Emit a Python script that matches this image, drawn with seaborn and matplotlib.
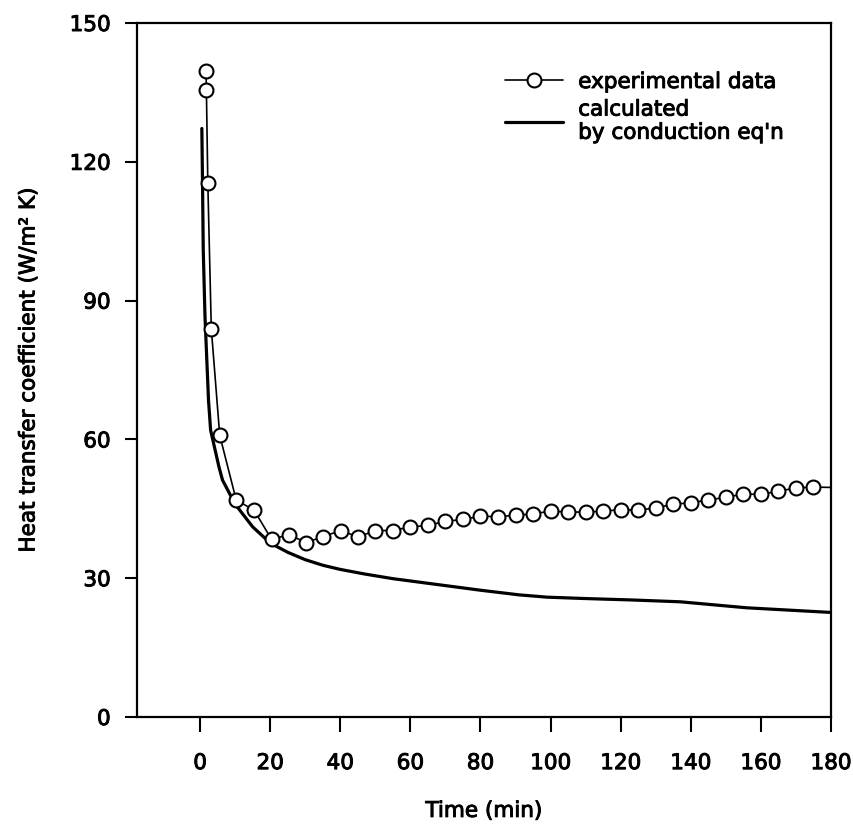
import matplotlib
matplotlib.use("Agg")
import matplotlib.pyplot as plt
import matplotlib.patheffects as pe
import seaborn as sns
import pandas as pd
from matplotlib.lines import Line2D

# experimental data (circles)
exp_time = [1.7, 1.8, 2.2, 3.2, 5.6, 10.3, 15.4, 20.4, 25.3, 30.3, 35.1, 40.2, 45.1,
            50, 55, 60, 65, 70, 75, 80, 85, 90, 95, 100, 105, 110, 115, 120, 125,
            130, 135, 140, 145, 150, 155, 160, 165, 170, 175, 181]
exp_h = [139.6, 135.5, 115.5, 83.9, 60.9, 46.9, 44.7, 38.4, 39.4, 37.7, 39.0, 40.3, 38.9,
         40.3, 40.3, 41.1, 41.4, 42.3, 42.7, 43.4, 43.3, 43.6, 43.9, 44.5, 44.3, 44.3,
         44.5, 44.8, 44.7, 45.2, 46.0, 46.3, 46.9, 47.5, 48.2, 48.1, 48.8, 49.5, 49.7, 49.6]

# calculated by conduction equation
calc_time = [0.5, 0.7, 0.9, 1.4, 2.4, 3.0, 5.4, 6.4, 10, 15, 20, 25, 30, 35, 40, 47,
             55, 65, 72, 80, 91, 99, 110, 123, 137, 156, 180]
calc_h = [127.2, 115, 101, 86.5, 68.5, 62, 54, 51.2, 46, 41.1, 37.6, 35.6, 34.0, 32.8,
          31.9, 30.9, 29.9, 28.9, 28.2, 27.4, 26.4, 25.9, 25.6, 25.3, 24.9, 23.6, 22.6]

x_ticks = [0, 20, 40, 60, 80, 100, 120, 140, 160, 180]
y_ticks = [0, 30, 60, 90, 120, 150]

sns.set_style("ticks")
plt.rcParams['font.family'] = ['DejaVu Sans']
plt.rcParams['text.color'] = 'black'
plt.rcParams['axes.labelcolor'] = 'black'
FS = 15.5
thick = [pe.withStroke(linewidth=0.7, foreground='black')]

fig = plt.figure(figsize=(8.54, 8.26), dpi=100)
ax = fig.add_axes([137/854, 1-717/826, (831-137)/854, (717-23)/826])

df_exp = pd.DataFrame({"t": exp_time, "h": exp_h})
df_calc = pd.DataFrame({"t": calc_time, "h": calc_h})

sns.lineplot(data=df_calc, x="t", y="h", ax=ax, color="black", linewidth=2.3,
             estimator=None, sort=False)
sns.lineplot(data=df_exp, x="t", y="h", ax=ax, color="black", linewidth=1.2,
             marker="o", markersize=10, markerfacecolor="white",
             markeredgecolor="black", markeredgewidth=1.5,
             markevery=list(range(len(exp_time) - 1)),
             estimator=None, sort=False)

ax.set_xlim(-18, 180)
ax.set_ylim(0, 150)
ax.set_xticks(x_ticks)
ax.set_yticks(y_ticks)
ax.tick_params(axis='both', direction='out', width=1.5, labelsize=FS,
               colors='black', labelcolor='black')
ax.tick_params(axis='x', length=11, pad=15)
ax.tick_params(axis='y', length=9, pad=10)
for s in ax.spines.values():
    s.set_linewidth(1.6)
    s.set_color('black')
    s.set_visible(True)

ax.set_xlabel("Time (min)", fontsize=FS, labelpad=20)
ax.set_ylabel("Heat transfer coefficient (W/m² K)", fontsize=FS)
ax.yaxis.set_label_coords(-0.142, 0.5)

handles = [
    Line2D([], [], color='black', linewidth=1.2, marker='o', markersize=10,
           markerfacecolor='white', markeredgecolor='black', markeredgewidth=1.5),
    Line2D([], [], color='black', linewidth=2.3),
]
leg = ax.legend(handles, ["experimental data", "calculated\nby conduction eq'n"],
                loc='upper left', bbox_to_anchor=((505-137)/694, (717-72)/694),
                frameon=False, fontsize=FS, handlelength=2.7, handletextpad=0.7,
                borderpad=0, borderaxespad=0, labelspacing=0.35, labelcolor='black')

texts = ax.get_xticklabels() + ax.get_yticklabels() + [ax.xaxis.label, ax.yaxis.label] \
    + leg.get_texts()
for t in texts:
    t.set_path_effects(thick)

fig.savefig("out.png", dpi=100)
